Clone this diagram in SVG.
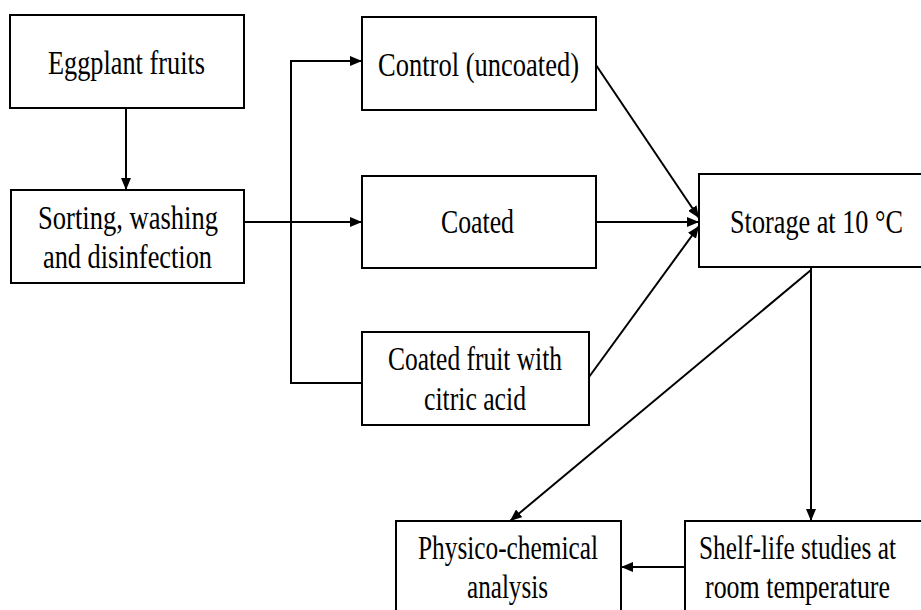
<svg xmlns="http://www.w3.org/2000/svg" width="921" height="610" viewBox="0 0 921 610">
<style>
.box{fill:#fff;stroke:#000;stroke-width:2}
.lbl{font-family:"Liberation Serif","Times New Roman",serif;font-size:26.5px;fill:#000;text-anchor:start}
.con{fill:none;stroke:#000;stroke-width:2}
</style>
<defs>
<marker id="ah" viewBox="0 0 12 10" refX="12" refY="5" markerWidth="12" markerHeight="10" markerUnits="userSpaceOnUse" orient="auto">
<path d="M0,0 L12,5 L0,10 Z" fill="#000"/>
</marker>
</defs>
<rect width="921" height="610" fill="#fff"/>
<g id="connectors">
<line class="con" x1="126" y1="108" x2="126" y2="190" marker-end="url(#ah)"/>
<line class="con" x1="244" y1="222" x2="362" y2="222" marker-end="url(#ah)"/>
<polyline class="con" points="362,383 291,383 291,61"/>
<line class="con" x1="290" y1="61" x2="362" y2="61" marker-end="url(#ah)"/>
<line class="con" x1="596" y1="65" x2="699" y2="218" marker-end="url(#ah)"/>
<line class="con" x1="596" y1="222" x2="699" y2="222" marker-end="url(#ah)"/>
<line class="con" x1="589" y1="377" x2="699" y2="226" marker-end="url(#ah)"/>
<line class="con" x1="811" y1="268" x2="811" y2="521" marker-end="url(#ah)"/>
<line class="con" x1="811" y1="270" x2="510" y2="521" marker-end="url(#ah)"/>
<line class="con" x1="685" y1="567" x2="621" y2="567" marker-end="url(#ah)"/>
</g>
<g id="eggplant">
<rect class="box" x="10" y="15" width="234" height="93"/>
<text class="lbl" transform="translate(48,74) scale(1,1.25)" textLength="157" lengthAdjust="spacingAndGlyphs">Eggplant fruits</text>
</g>
<g id="sorting">
<rect class="box" x="11" y="190" width="233" height="93"/>
<text class="lbl" transform="translate(38,229) scale(1,1.25)" textLength="180" lengthAdjust="spacingAndGlyphs">Sorting, washing</text>
<text class="lbl" transform="translate(43,268) scale(1,1.25)" textLength="169" lengthAdjust="spacingAndGlyphs">and disinfection</text>
</g>
<g id="control">
<rect class="box" x="362" y="17" width="234" height="93"/>
<text class="lbl" transform="translate(378,76) scale(1,1.25)" textLength="201" lengthAdjust="spacingAndGlyphs">Control (uncoated)</text>
</g>
<g id="coated">
<rect class="box" x="362" y="176" width="234" height="92"/>
<text class="lbl" transform="translate(441,233) scale(1,1.25)" textLength="73" lengthAdjust="spacingAndGlyphs">Coated</text>
</g>
<g id="citric">
<rect class="box" x="362" y="332" width="227" height="93"/>
<text class="lbl" transform="translate(388,370) scale(1,1.25)" textLength="174" lengthAdjust="spacingAndGlyphs">Coated fruit with</text>
<text class="lbl" transform="translate(424,410) scale(1,1.25)" textLength="102" lengthAdjust="spacingAndGlyphs">citric acid</text>
</g>
<g id="storage">
<path class="box" d="M921,174 H699 V267 H921"/>
<text class="lbl" transform="translate(730,233) scale(1,1.25)" textLength="173" lengthAdjust="spacingAndGlyphs">Storage at 10 °C</text>
</g>
<g id="physico">
<path class="box" d="M396,610 V521 H621 V610"/>
<text class="lbl" transform="translate(418,559) scale(1,1.25)" textLength="180" lengthAdjust="spacingAndGlyphs">Physico-chemical</text>
<text class="lbl" transform="translate(467,598) scale(1,1.25)" textLength="81" lengthAdjust="spacingAndGlyphs">analysis</text>
</g>
<g id="shelf">
<path class="box" d="M921,521 H685 V610"/>
<text class="lbl" transform="translate(699,559) scale(1,1.25)" textLength="197" lengthAdjust="spacingAndGlyphs">Shelf-life studies at</text>
<text class="lbl" transform="translate(705,598) scale(1,1.25)" textLength="185" lengthAdjust="spacingAndGlyphs">room temperature</text>
</g>
</svg>
